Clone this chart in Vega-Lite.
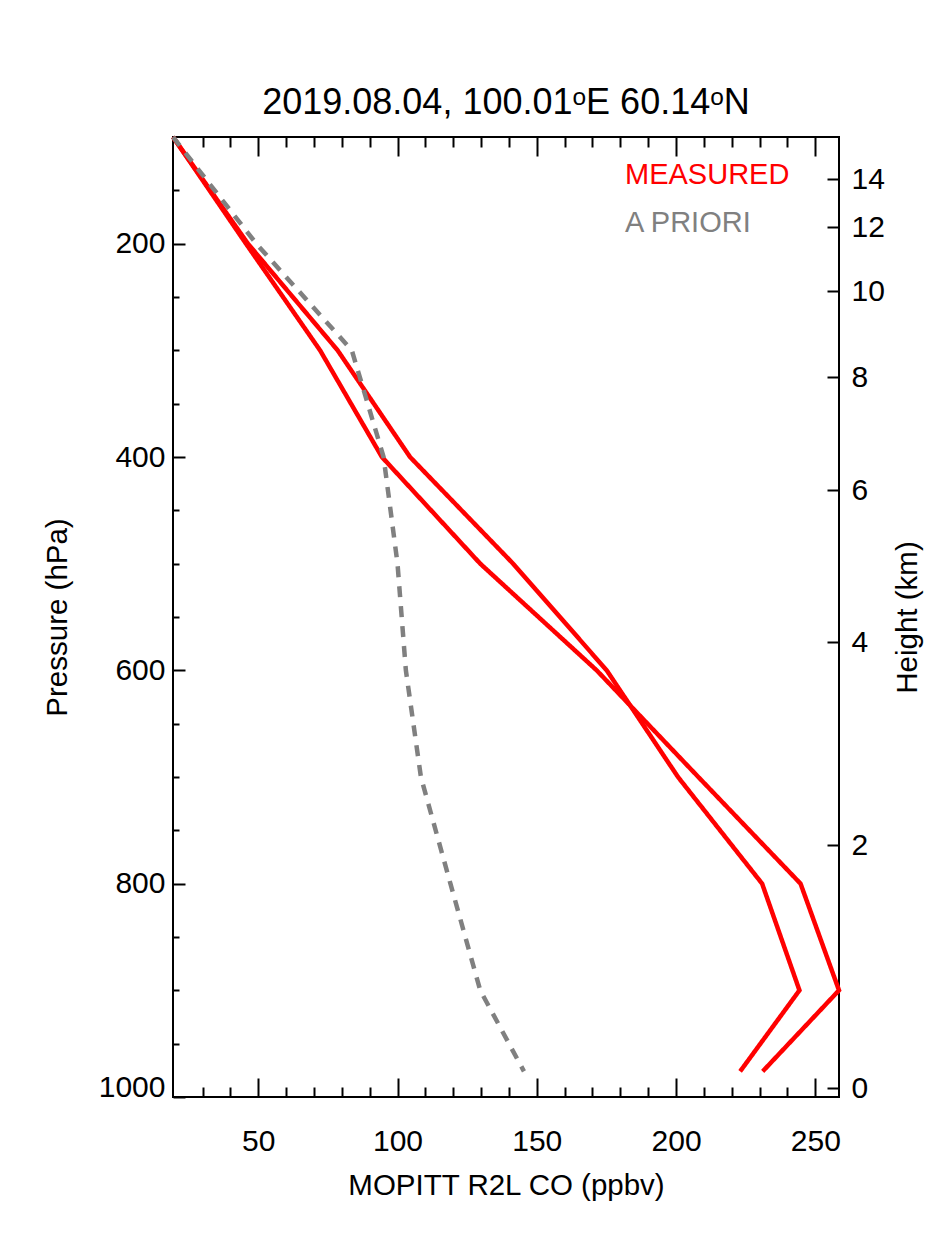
{
  "$schema": "https://vega.github.io/schema/vega-lite/v6.json",
  "width": 666,
  "height": 960,
  "autosize": {"type": "none"},
  "padding": {"left": 173, "top": 137, "right": 87, "bottom": 138},
  "background": "white",
  "title": {
    "text": "2019.08.04, 100.01ᵒE 60.14ᵒN",
    "fontSize": 36,
    "font": "Liberation Sans",
    "fontWeight": "normal",
    "color": "black",
    "anchor": "middle",
    "frame": "group",
    "baseline": "alphabetic",
    "offset": -22
  },
  "data": {
    "values": [
      {"line": "m1", "type": "MEASURED", "p": 100, "co": 19.4},
      {"line": "m1", "type": "MEASURED", "p": 200, "co": 45.6},
      {"line": "m1", "type": "MEASURED", "p": 300, "co": 72.2},
      {"line": "m1", "type": "MEASURED", "p": 400, "co": 94.4},
      {"line": "m1", "type": "MEASURED", "p": 500, "co": 129.7},
      {"line": "m1", "type": "MEASURED", "p": 600, "co": 171.5},
      {"line": "m1", "type": "MEASURED", "p": 700, "co": 208.0},
      {"line": "m1", "type": "MEASURED", "p": 800, "co": 244.7},
      {"line": "m1", "type": "MEASURED", "p": 900, "co": 258.5},
      {"line": "m1", "type": "MEASURED", "p": 976, "co": 231.1},
      {"line": "m2", "type": "MEASURED", "p": 100, "co": 19.4},
      {"line": "m2", "type": "MEASURED", "p": 200, "co": 46.3},
      {"line": "m2", "type": "MEASURED", "p": 300, "co": 78.5},
      {"line": "m2", "type": "MEASURED", "p": 400, "co": 104.5},
      {"line": "m2", "type": "MEASURED", "p": 500, "co": 141.5},
      {"line": "m2", "type": "MEASURED", "p": 600, "co": 175.1},
      {"line": "m2", "type": "MEASURED", "p": 700, "co": 200.7},
      {"line": "m2", "type": "MEASURED", "p": 800, "co": 230.9},
      {"line": "m2", "type": "MEASURED", "p": 900, "co": 244.3},
      {"line": "m2", "type": "MEASURED", "p": 976, "co": 223.0},
      {"line": "ap", "type": "A PRIORI", "p": 100, "co": 19.4},
      {"line": "ap", "type": "A PRIORI", "p": 200, "co": 49.3},
      {"line": "ap", "type": "A PRIORI", "p": 300, "co": 83.6},
      {"line": "ap", "type": "A PRIORI", "p": 400, "co": 95.0},
      {"line": "ap", "type": "A PRIORI", "p": 500, "co": 100.0},
      {"line": "ap", "type": "A PRIORI", "p": 600, "co": 103.0},
      {"line": "ap", "type": "A PRIORI", "p": 700, "co": 108.4},
      {"line": "ap", "type": "A PRIORI", "p": 800, "co": 119.0},
      {"line": "ap", "type": "A PRIORI", "p": 900, "co": 129.7},
      {"line": "ap", "type": "A PRIORI", "p": 976, "co": 145.4}
    ]
  },
  "layer": [
    {
      "mark": {"type": "line", "strokeWidth": 4.5},
      "encoding": {
        "x": {
          "field": "co",
          "type": "quantitative",
          "scale": {"domain": [19.4, 258.5], "nice": false, "zero": false},
          "axis": {
            "orient": "bottom",
            "title": "MOPITT R2L CO (ppbv)",
            "values": [30, 40, 50, 60, 70, 80, 90, 100, 110, 120, 130, 140, 150, 160, 170, 180, 190, 200, 210, 220, 230, 240, 250],
            "labelExpr": "datum.value % 50 === 0 ? format(datum.value, 'd') : ''",
            "tickSize": {"condition": {"test": "datum.value % 50 === 0", "value": -19}, "value": -10},
            "labelPadding": 48,
            "labelFlush": false,
            "labelOverlap": false,
            "titlePadding": 6
          }
        },
        "y": {
          "field": "p",
          "type": "quantitative",
          "scale": {"domain": [100, 1000], "reverse": true, "nice": false, "zero": false},
          "axis": {
            "orient": "left",
            "title": "Pressure (hPa)",
            "values": [150, 200, 250, 300, 350, 400, 450, 500, 550, 600, 650, 700, 750, 800, 850, 900, 950, 1000],
            "labelExpr": "datum.value % 200 === 0 ? format(datum.value, 'd') : ''",
            "tickSize": {"condition": {"test": "datum.value % 200 === 0", "value": -12}, "value": -6},
            "labelPadding": 20,
            "labelFlush": true,
            "labelFlushOffset": 5,
            "labelOverlap": false,
            "titlePadding": 26
          }
        },
        "color": {
          "field": "type",
          "type": "nominal",
          "scale": {"domain": ["MEASURED", "A PRIORI"], "range": ["#ff0000", "#808080"]},
          "legend": {
            "orient": "none",
            "legendX": 423,
            "legendY": 23,
            "title": null,
            "labelFontSize": 29,
            "labelFont": "Liberation Sans",
            "labelLimit": 400,
            "symbolSize": 0,
            "symbolStrokeWidth": 0,
            "symbolOpacity": 0,
            "labelOffset": 0,
            "rowPadding": 18,
            "padding": 0,
            "encode": {
              "labels": {
                "update": {
                  "fill": {"signal": "datum.value === 'MEASURED' ? '#ff0000' : '#808080'"}
                }
              }
            }
          }
        },
        "strokeDash": {
          "field": "type",
          "type": "nominal",
          "scale": {"domain": ["MEASURED", "A PRIORI"], "range": [[1, 0], [11, 9]]},
          "legend": null
        },
        "detail": {"field": "line"},
        "order": {"field": "p", "type": "quantitative"}
      }
    },
    {
      "mark": {"type": "line", "opacity": 0},
      "encoding": {
        "x": {
          "field": "co",
          "type": "quantitative",
          "axis": {
            "orient": "top",
            "title": null,
            "values": [30, 40, 50, 60, 70, 80, 90, 100, 110, 120, 130, 140, 150, 160, 170, 180, 190, 200, 210, 220, 230, 240, 250],
            "labels": false,
            "tickSize": {"condition": {"test": "datum.value % 50 === 0", "value": -19}, "value": -10}
          }
        },
        "y": {
          "field": "p",
          "type": "quantitative",
          "scale": {"domain": [100, 1000], "reverse": true, "nice": false, "zero": false},
          "axis": {
            "orient": "right",
            "title": "Height (km)",
            "values": [991.9, 764.1, 573.8, 431.3, 325.4, 244.7, 184.7, 139.7],
            "labelExpr": "datum.value > 900 ? '0' : datum.value > 700 ? '2' : datum.value > 500 ? '4' : datum.value > 400 ? '6' : datum.value > 300 ? '8' : datum.value > 220 ? '10' : datum.value > 160 ? '12' : '14'",
            "tickSize": -12,
            "labelPadding": 24,
            "labelOverlap": false,
            "titleAngle": 270,
            "titleBaseline": "top",
            "titlePadding": 9
          }
        },
        "detail": {"field": "line"},
        "order": {"field": "p", "type": "quantitative"}
      }
    }
  ],
  "resolve": {
    "scale": {"y": "independent"},
    "axis": {"x": "independent", "y": "independent"}
  },
  "config": {
    "font": "Liberation Sans",
    "view": {"stroke": "black", "strokeWidth": 2},
    "axis": {
      "domain": false,
      "grid": false,
      "tickColor": "black",
      "tickWidth": 2,
      "labelColor": "black",
      "titleColor": "black",
      "labelFontSize": 30,
      "titleFontSize": 29.5,
      "labelFont": "Liberation Sans",
      "titleFont": "Liberation Sans",
      "titleFontWeight": "normal"
    }
  }
}
